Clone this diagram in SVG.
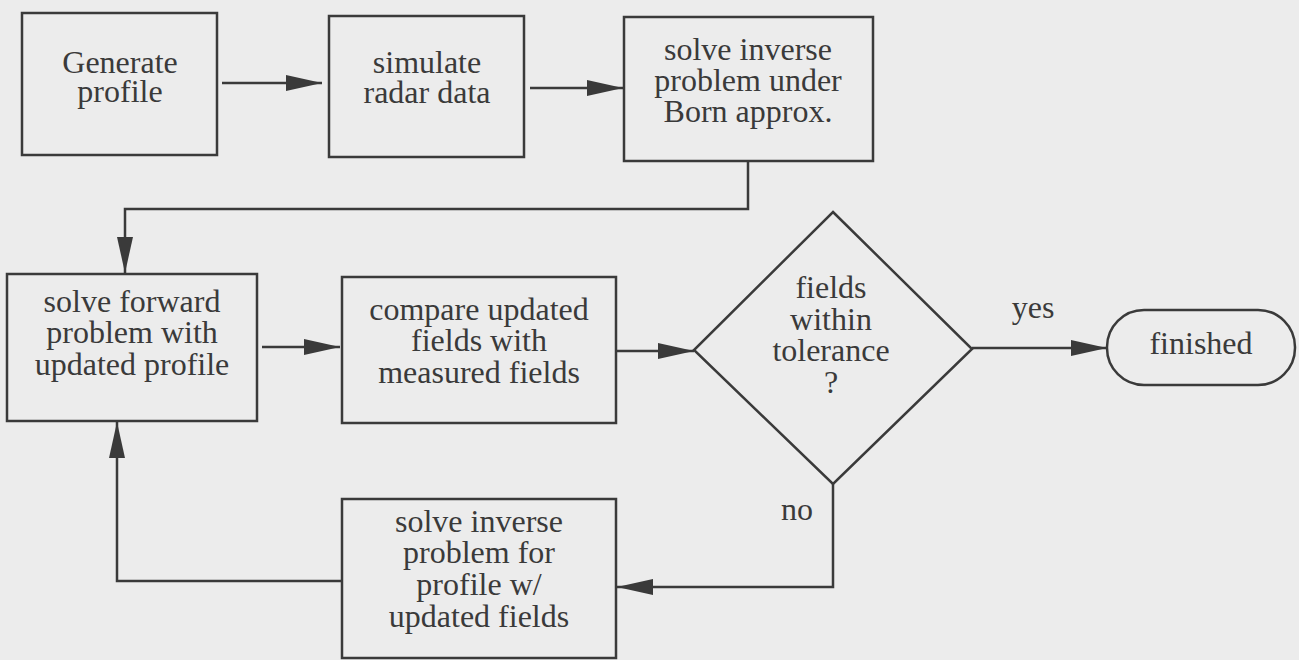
<svg xmlns="http://www.w3.org/2000/svg" width="1299" height="660" viewBox="0 0 1299 660">
<defs>
<marker id="ah" markerUnits="userSpaceOnUse" markerWidth="36" markerHeight="18" refX="36" refY="8" orient="auto">
<path d="M0,0 L36,8 L0,16 z" fill="#3a3a3a"/>
</marker>
<style>
.n{fill:none;stroke:#3a3a3a;stroke-width:2.5}
.t{font-family:"Liberation Serif","Times New Roman",serif;font-size:32px;fill:#3a3a3a;text-anchor:middle}
.c{fill:none;stroke:#3a3a3a;stroke-width:2.5;marker-end:url(#ah)}
</style>
</defs>
<rect width="1299" height="660" fill="#ececec"/>
<g id="connectors">
<path class="c" d="M222,83 H322"/>
<path class="c" d="M530,88 H623"/>
<path class="c" d="M748,161 V209 H125 V273"/>
<path class="c" d="M262,347 H340"/>
<path class="c" d="M617,351 H694"/>
<path class="c" d="M972,348 H1107"/>
<path class="c" d="M833,484 V587 H617"/>
<path class="c" d="M342,581 H117 V422"/>
<text class="t" x="1033" y="318">yes</text>
<text class="t" x="797" y="520">no</text>
</g>
<g id="generate">
<rect class="n" x="22" y="13" width="195" height="142"/>
<text class="t" y="73"><tspan x="120">Generate</tspan><tspan x="120" dy="29">profile</tspan></text>
</g>
<g id="simulate">
<rect class="n" x="329" y="16" width="195" height="141"/>
<text class="t" y="73"><tspan x="427">simulate</tspan><tspan x="427" dy="30">radar data</tspan></text>
</g>
<g id="born">
<rect class="n" x="624" y="17" width="249" height="144"/>
<text class="t" y="60"><tspan x="748">solve inverse</tspan><tspan x="748" dy="31">problem under</tspan><tspan x="748" dy="31">Born approx.</tspan></text>
</g>
<g id="forward">
<rect class="n" x="7" y="274" width="250" height="147"/>
<text class="t" y="312"><tspan x="132">solve forward</tspan><tspan x="132" dy="31">problem with</tspan><tspan x="132" dy="32">updated profile</tspan></text>
</g>
<g id="compare">
<rect class="n" x="342" y="277" width="274" height="146"/>
<text class="t" y="320"><tspan x="479">compare updated</tspan><tspan x="479" dy="31">fields with</tspan><tspan x="479" dy="32">measured fields</tspan></text>
</g>
<g id="decision">
<polygon class="n" points="833,212 972,349 833,484 694,350"/>
<text class="t" y="298"><tspan x="831">fields</tspan><tspan x="831" dy="32">within</tspan><tspan x="831" dy="31">tolerance</tspan><tspan x="831" dy="32">?</tspan></text>
</g>
<g id="finished">
<rect class="n" x="1107" y="310" width="188" height="75" rx="37" ry="37"/>
<text class="t" x="1201" y="354">finished</text>
</g>
<g id="inverse2">
<rect class="n" x="342" y="499" width="274" height="159"/>
<text class="t" y="532"><tspan x="479">solve inverse</tspan><tspan x="479" dy="31">problem for</tspan><tspan x="479" dy="32">profile w/</tspan><tspan x="479" dy="32">updated fields</tspan></text>
</g>
</svg>
